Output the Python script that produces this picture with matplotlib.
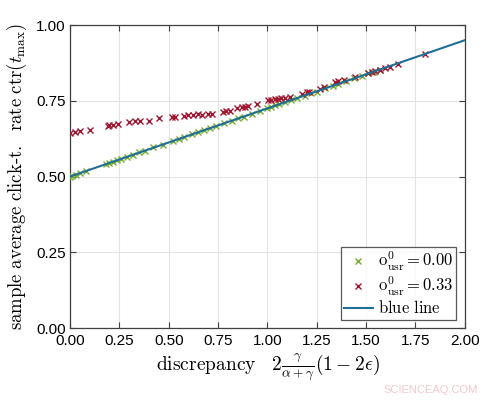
import matplotlib
matplotlib.use("Agg")
import matplotlib.pyplot as plt

plt.rcParams['mathtext.fontset'] = 'cm'
plt.rcParams['font.family'] = ['Liberation Sans', 'DejaVu Sans']

# green series, o_usr = 0.00
green_x = [0.00, 0.01, 0.03, 0.05, 0.08, 0.18, 0.20, 0.22, 0.24, 0.26, 0.29, 0.32,
           0.35, 0.38, 0.42, 0.47, 0.52, 0.55, 0.58, 0.62, 0.65, 0.68, 0.71, 0.74,
           0.78, 0.82, 0.85, 0.88, 0.92, 0.96, 1.00, 1.02, 1.04, 1.06, 1.09, 1.12,
           1.15, 1.19, 1.22, 1.25, 1.29, 1.33, 1.36, 1.40, 1.44, 1.48, 1.51, 1.54, 1.57]
green_y = [0.498, 0.503, 0.506, 0.512, 0.517, 0.540, 0.546, 0.549, 0.555, 0.558, 0.566, 0.571,
           0.580, 0.585, 0.596, 0.605, 0.618, 0.623, 0.632, 0.639, 0.647, 0.652, 0.661, 0.666,
           0.677, 0.684, 0.692, 0.697, 0.708, 0.715, 0.726, 0.729, 0.735, 0.738, 0.746, 0.751,
           0.760, 0.767, 0.776, 0.780, 0.791, 0.798, 0.807, 0.814, 0.825, 0.832, 0.841, 0.846, 0.853]

# red series, o_usr = 0.33
red_x = [0.00, 0.025, 0.05, 0.10, 0.19, 0.20, 0.22, 0.245, 0.30, 0.33, 0.355, 0.40,
         0.45, 0.515, 0.53, 0.58, 0.60, 0.625, 0.65, 0.67, 0.70, 0.72, 0.775, 0.79,
         0.81, 0.845, 0.87, 0.885, 0.90, 0.945, 1.005, 1.02, 1.04, 1.055, 1.07, 1.09,
         1.115, 1.175, 1.20, 1.21, 1.265, 1.285, 1.34, 1.36, 1.39, 1.445, 1.51, 1.53,
         1.545, 1.57, 1.595, 1.62, 1.66, 1.80]
red_y = [0.645, 0.647, 0.650, 0.655, 0.668, 0.670, 0.670, 0.672, 0.681, 0.682, 0.683, 0.684,
         0.692, 0.695, 0.697, 0.701, 0.703, 0.704, 0.705, 0.704, 0.707, 0.708, 0.714, 0.715,
         0.716, 0.725, 0.728, 0.730, 0.732, 0.738, 0.752, 0.754, 0.755, 0.756, 0.758, 0.760,
         0.764, 0.772, 0.778, 0.780, 0.789, 0.795, 0.812, 0.815, 0.820, 0.830, 0.842, 0.846,
         0.849, 0.852, 0.857, 0.863, 0.872, 0.904]

# reference line
line_x = [0.0, 2.0]
line_y = [0.5, 0.95]

ticks = [0.00, 0.25, 0.50, 0.75, 1.00, 1.25, 1.50, 1.75, 2.00]
yticks = [0.00, 0.25, 0.50, 0.75, 1.00]

fig = plt.figure(figsize=(4.95, 4.04), dpi=100)
ax = fig.add_axes([0.1414, 0.188, 0.7976, 0.750])

ax.plot(green_x, green_y, 'x', color='#77AC30', ms=4, mew=1, label=r'$\mathrm{o}^0_{\mathrm{usr}} = 0.00$', zorder=3)
ax.plot(red_x, red_y, 'x', color='#A2142F', ms=4, mew=1, label=r'$\mathrm{o}^0_{\mathrm{usr}} = 0.33$', zorder=3)
ax.plot(line_x, line_y, '-', color='#1f6f95', lw=1.5, label=r'$\mathrm{blue\ line}$', zorder=4)

ax.set_xlim(0, 2)
ax.set_ylim(0, 1)
ax.set_xticks(ticks)
ax.set_yticks(yticks)
ax.set_xticklabels(['%.2f' % t for t in ticks], fontsize=11)
ax.set_yticklabels(['%.2f' % t for t in yticks], fontsize=11)
ax.tick_params(direction='in', top=True, right=True, length=4, color='#404040')
ax.tick_params(axis='x', pad=4)
ax.tick_params(axis='y', pad=3)
ax.grid(True, color='#e3e3e3', lw=0.8)
ax.set_axisbelow(True)
for s in ax.spines.values():
    s.set_color('#404040')
    s.set_linewidth(0.9)

ax.set_xlabel(r'$\mathrm{discrepancy}\quad 2\frac{\gamma}{\alpha+\gamma}(1-2\epsilon)$', fontsize=14, labelpad=3)
ax.set_ylabel(r'$\mathrm{sample\ average\ click\text{-}t.\ \ rate\ ctr}(t_{\max})$', fontsize=13.5, labelpad=5)

leg = ax.legend(loc='lower right', fontsize=12, frameon=True, fancybox=False,
                edgecolor='#303030', borderpad=0.2, handlelength=1.7, handletextpad=0.3,
                labelspacing=0.1, borderaxespad=0.5)
leg.get_frame().set_linewidth(0.9)

fig.text(0.965, 0.022, 'SCIENCEAQ.COM', color='#f2c8cc', fontsize=8, ha='right', va='bottom')

fig.savefig('out.png', dpi=100)
